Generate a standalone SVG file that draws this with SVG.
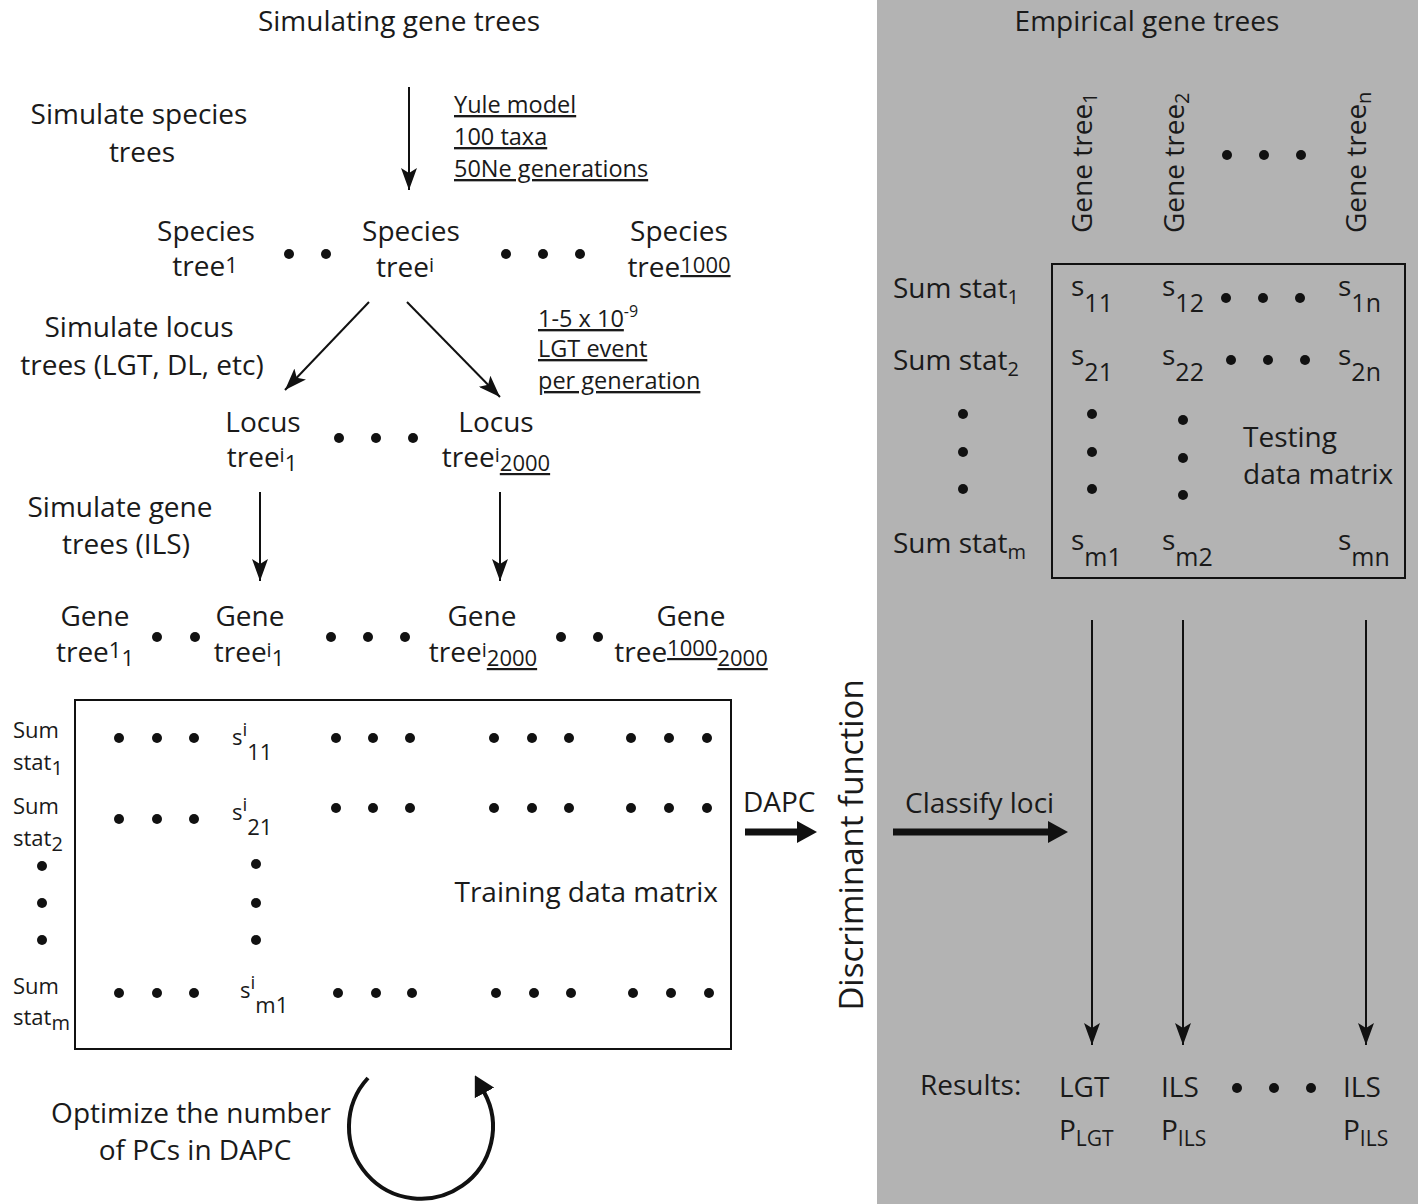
<svg xmlns="http://www.w3.org/2000/svg" width="1418" height="1204" viewBox="0 0 1418 1204">
<style>
text{font-family:"Open Sans","Noto Sans","DejaVu Sans",sans-serif;fill:#1a1a1a}
.t{font-size:28px}
.a{font-size:23.5px}
.sm{font-size:22px}
.big{font-size:33px}
.u{text-decoration:underline}
.dot{fill:#111}
.thin{stroke:#111;stroke-width:2;fill:none;marker-end:url(#ah)}
.thick{stroke:#111;stroke-width:7;fill:none;marker-end:url(#ahb)}
.box{fill:none;stroke:#111;stroke-width:2}
</style>
<defs>
<marker id="ah" viewBox="0 0 22 16" refX="22" refY="8" markerWidth="22" markerHeight="16" markerUnits="userSpaceOnUse" orient="auto"><path d="M0,0 L22,8 L0,16 L5,8 Z" fill="#111"/></marker>
<marker id="ahb" viewBox="0 0 20 22" refX="1" refY="11" markerWidth="20" markerHeight="22" markerUnits="userSpaceOnUse" orient="auto"><path d="M0,0 L20,11 L0,22 Z" fill="#111"/></marker>
</defs>
<rect x="0" y="0" width="1418" height="1204" fill="#ffffff"/>
<rect x="877" y="0" width="541" height="1204" fill="#b3b3b3"/>

<g id="titles">
<text class="t" x="399" y="31" text-anchor="middle">Simulating gene trees</text>
<text class="t" x="1147" y="31" text-anchor="middle">Empirical gene trees</text>
</g>

<g id="step-labels">
<text class="t" x="139" y="124" text-anchor="middle">Simulate species</text>
<text class="t" x="142" y="162" text-anchor="middle">trees</text>
<text class="t" x="139" y="337" text-anchor="middle">Simulate locus</text>
<text class="t" x="142" y="375" text-anchor="middle">trees (LGT, DL, etc)</text>
<text class="t" x="120" y="517" text-anchor="middle">Simulate gene</text>
<text class="t" x="126" y="554" text-anchor="middle">trees (ILS)</text>
</g>

<g id="params">
<text class="a u" x="454" y="113">Yule model</text>
<text class="a u" x="454" y="145">100 taxa</text>
<text class="a u" x="454" y="177">50Ne generations</text>
<text class="a" x="538" y="327"><tspan class="u">1-5 x 10</tspan><tspan dy="-10" font-size="16">-9</tspan></text>
<text class="a u" x="538" y="357">LGT event</text>
<text class="a u" x="538" y="389">per generation</text>
</g>

<g id="species-trees">
<text class="t" x="206" y="241" text-anchor="middle">Species</text>
<text class="t" x="205" y="276" text-anchor="middle">tree<tspan dy="-3" font-size="22">1</tspan></text>
<circle class="dot" cx="289" cy="254" r="5"/><circle class="dot" cx="326" cy="254" r="5"/>
<text class="t" x="411" y="241" text-anchor="middle">Species</text>
<text class="t" x="405" y="277" text-anchor="middle">tree<tspan dy="-5" font-size="20">i</tspan></text>
<circle class="dot" cx="506" cy="254" r="5"/><circle class="dot" cx="543" cy="254" r="5"/><circle class="dot" cx="580" cy="254" r="5"/>
<text class="t" x="679" y="241" text-anchor="middle">Species</text>
<text class="t" x="679" y="277" text-anchor="middle">tree<tspan dy="-4" font-size="22" class="u">1000</tspan></text>
</g>

<g id="locus-trees">
<text class="t" x="263" y="432" text-anchor="middle">Locus</text>
<text class="t" x="262" y="467" text-anchor="middle">tree<tspan dy="-5" font-size="20">i</tspan><tspan dy="9" font-size="22">1</tspan></text>
<circle class="dot" cx="339" cy="438" r="5"/><circle class="dot" cx="376" cy="438" r="5"/><circle class="dot" cx="413" cy="438" r="5"/>
<text class="t" x="496" y="432" text-anchor="middle">Locus</text>
<text class="t" x="496" y="467" text-anchor="middle">tree<tspan dy="-5" font-size="20">i</tspan><tspan dy="9" font-size="22" class="u">2000</tspan></text>
</g>

<g id="gene-trees">
<text class="t" x="95" y="626" text-anchor="middle">Gene</text>
<text class="t" x="95" y="662" text-anchor="middle">tree<tspan dy="-4" font-size="22">1</tspan><tspan dy="8" font-size="22">1</tspan></text>
<circle class="dot" cx="157" cy="637" r="5"/><circle class="dot" cx="195" cy="637" r="5"/>
<text class="t" x="250" y="626" text-anchor="middle">Gene</text>
<text class="t" x="249" y="662" text-anchor="middle">tree<tspan dy="-5" font-size="20">i</tspan><tspan dy="9" font-size="22">1</tspan></text>
<circle class="dot" cx="331" cy="637" r="5"/><circle class="dot" cx="368" cy="637" r="5"/><circle class="dot" cx="405" cy="637" r="5"/>
<text class="t" x="482" y="626" text-anchor="middle">Gene</text>
<text class="t" x="483" y="662" text-anchor="middle">tree<tspan dy="-5" font-size="20">i</tspan><tspan dy="9" font-size="22" class="u">2000</tspan></text>
<circle class="dot" cx="561" cy="637" r="5"/><circle class="dot" cx="598" cy="637" r="5"/>
<text class="t" x="691" y="626" text-anchor="middle">Gene</text>
<text class="t" x="691" y="662" text-anchor="middle">tree<tspan dy="-6" font-size="22" class="u">1000</tspan><tspan dy="10" font-size="22" class="u">2000</tspan></text>
</g>

<g id="training-matrix">
<rect class="box" x="75" y="700" width="656" height="349"/>
<text class="sm" x="13" y="738">Sum</text>
<text class="sm" x="13" y="770">stat<tspan dy="5" font-size="20">1</tspan></text>
<text class="sm" x="13" y="814">Sum</text>
<text class="sm" x="13" y="846">stat<tspan dy="5" font-size="20">2</tspan></text>
<text class="sm" x="13" y="994">Sum</text>
<text class="sm" x="13" y="1025">stat<tspan dy="5" font-size="20">m</tspan></text>
<circle class="dot" cx="42" cy="866" r="5"/><circle class="dot" cx="42" cy="903" r="5"/><circle class="dot" cx="42" cy="940" r="5"/>
<text class="sm" x="232" y="745">s<tspan dy="-9" font-size="19">i</tspan><tspan dy="24">11</tspan></text>
<text class="sm" x="232" y="820">s<tspan dy="-9" font-size="19">i</tspan><tspan dy="24">21</tspan></text>
<text class="sm" x="240" y="998">s<tspan dy="-9" font-size="19">i</tspan><tspan dy="24">m1</tspan></text>
<circle class="dot" cx="256" cy="864" r="5"/><circle class="dot" cx="256" cy="903" r="5"/><circle class="dot" cx="256" cy="940" r="5"/>
<g id="row1-dots">
<circle class="dot" cx="119" cy="738" r="5"/><circle class="dot" cx="157" cy="738" r="5"/><circle class="dot" cx="194" cy="738" r="5"/>
<circle class="dot" cx="336" cy="738" r="5"/><circle class="dot" cx="373" cy="738" r="5"/><circle class="dot" cx="410" cy="738" r="5"/>
<circle class="dot" cx="494" cy="738" r="5"/><circle class="dot" cx="532" cy="738" r="5"/><circle class="dot" cx="569" cy="738" r="5"/>
<circle class="dot" cx="631" cy="738" r="5"/><circle class="dot" cx="669" cy="738" r="5"/><circle class="dot" cx="707" cy="738" r="5"/>
</g>
<g id="row2-dots">
<circle class="dot" cx="119" cy="819" r="5"/><circle class="dot" cx="157" cy="819" r="5"/><circle class="dot" cx="194" cy="819" r="5"/>
<circle class="dot" cx="336" cy="808" r="5"/><circle class="dot" cx="373" cy="808" r="5"/><circle class="dot" cx="410" cy="808" r="5"/>
<circle class="dot" cx="494" cy="808" r="5"/><circle class="dot" cx="532" cy="808" r="5"/><circle class="dot" cx="569" cy="808" r="5"/>
<circle class="dot" cx="631" cy="808" r="5"/><circle class="dot" cx="669" cy="808" r="5"/><circle class="dot" cx="707" cy="808" r="5"/>
</g>
<g id="rowm-dots">
<circle class="dot" cx="119" cy="993" r="5"/><circle class="dot" cx="157" cy="993" r="5"/><circle class="dot" cx="194" cy="993" r="5"/>
<circle class="dot" cx="338" cy="993" r="5"/><circle class="dot" cx="376" cy="993" r="5"/><circle class="dot" cx="412" cy="993" r="5"/>
<circle class="dot" cx="496" cy="993" r="5"/><circle class="dot" cx="534" cy="993" r="5"/><circle class="dot" cx="571" cy="993" r="5"/>
<circle class="dot" cx="633" cy="993" r="5"/><circle class="dot" cx="671" cy="993" r="5"/><circle class="dot" cx="709" cy="993" r="5"/>
</g>
<text class="t" x="718" y="902" text-anchor="end">Training data matrix</text>
</g>

<g id="optimize">
<text class="t" x="191" y="1123" text-anchor="middle">Optimize the number</text>
<text class="t" x="195" y="1160" text-anchor="middle">of PCs in DAPC</text>
</g>

<g id="dapc">
<text class="t" x="743" y="812">DAPC</text>
<text class="big" transform="translate(863,845) rotate(-90)" text-anchor="middle">Discriminant function</text>
<text class="t" x="905" y="813">Classify loci</text>
</g>

<g id="gene-tree-headers">
<text class="t" transform="translate(1092,233) rotate(-90)">Gene tree<tspan dy="5" font-size="20">1</tspan></text>
<text class="t" transform="translate(1184,233) rotate(-90)">Gene tree<tspan dy="5" font-size="20">2</tspan></text>
<text class="t" transform="translate(1366,233) rotate(-90)">Gene tree<tspan dy="5" font-size="20">n</tspan></text>
<circle class="dot" cx="1227" cy="155" r="5"/><circle class="dot" cx="1264" cy="155" r="5"/><circle class="dot" cx="1301" cy="155" r="5"/>
</g>

<g id="testing-matrix">
<rect class="box" x="1052" y="264" width="353" height="314"/>
<text class="t" x="893" y="298">Sum stat<tspan dy="6" font-size="20">1</tspan></text>
<text class="t" x="893" y="370">Sum stat<tspan dy="6" font-size="20">2</tspan></text>
<text class="t" x="893" y="553">Sum stat<tspan dy="6" font-size="20">m</tspan></text>
<circle class="dot" cx="963" cy="414" r="5"/><circle class="dot" cx="963" cy="452" r="5"/><circle class="dot" cx="963" cy="489" r="5"/>
<text class="t" x="1071" y="296">s<tspan dy="16" font-size="25">11</tspan></text>
<text class="t" x="1162" y="296">s<tspan dy="16" font-size="25">12</tspan></text>
<text class="t" x="1338" y="296">s<tspan dy="16" font-size="25">1n</tspan></text>
<circle class="dot" cx="1226" cy="298" r="5"/><circle class="dot" cx="1263" cy="298" r="5"/><circle class="dot" cx="1300" cy="298" r="5"/>
<text class="t" x="1071" y="365">s<tspan dy="16" font-size="25">21</tspan></text>
<text class="t" x="1162" y="365">s<tspan dy="16" font-size="25">22</tspan></text>
<text class="t" x="1338" y="365">s<tspan dy="16" font-size="25">2n</tspan></text>
<circle class="dot" cx="1231" cy="360" r="5"/><circle class="dot" cx="1268" cy="360" r="5"/><circle class="dot" cx="1305" cy="360" r="5"/>
<circle class="dot" cx="1092" cy="414" r="5"/><circle class="dot" cx="1092" cy="452" r="5"/><circle class="dot" cx="1092" cy="489" r="5"/>
<circle class="dot" cx="1183" cy="420" r="5"/><circle class="dot" cx="1183" cy="458" r="5"/><circle class="dot" cx="1183" cy="495" r="5"/>
<text class="t" x="1243" y="447">Testing</text>
<text class="t" x="1243" y="484">data matrix</text>
<text class="t" x="1071" y="550">s<tspan dy="16" font-size="25">m1</tspan></text>
<text class="t" x="1162" y="550">s<tspan dy="16" font-size="25">m2</tspan></text>
<text class="t" x="1338" y="550">s<tspan dy="16" font-size="25">mn</tspan></text>
</g>

<g id="results">
<text class="t" x="920" y="1095">Results:</text>
<text class="t" x="1059" y="1097">LGT</text>
<text class="t" x="1059" y="1140">P<tspan dy="6" font-size="21">LGT</tspan></text>
<text class="t" x="1161" y="1097">ILS</text>
<text class="t" x="1161" y="1140">P<tspan dy="6" font-size="21">ILS</tspan></text>
<circle class="dot" cx="1237" cy="1088" r="5"/><circle class="dot" cx="1274" cy="1088" r="5"/><circle class="dot" cx="1311" cy="1088" r="5"/>
<text class="t" x="1343" y="1097">ILS</text>
<text class="t" x="1343" y="1140">P<tspan dy="6" font-size="21">ILS</tspan></text>
</g>

<g id="connectors">
<line class="thin" x1="409" y1="87" x2="409" y2="190"/>
<line class="thin" x1="369" y1="302" x2="285" y2="390"/>
<line class="thin" x1="407" y1="302" x2="500" y2="397"/>
<line class="thin" x1="260" y1="492" x2="260" y2="581"/>
<line class="thin" x1="500" y1="492" x2="500" y2="581"/>
<line class="thick" x1="745" y1="832" x2="798" y2="832"/>
<line class="thick" x1="893" y1="832" x2="1049" y2="832"/>
<line class="thin" x1="1092" y1="620" x2="1092" y2="1045"/>
<line class="thin" x1="1183" y1="620" x2="1183" y2="1045"/>
<line class="thin" x1="1366" y1="620" x2="1366" y2="1045"/>
<path d="M368,1078 A72,72 0 1,0 484,1092" stroke="#111" stroke-width="4" fill="none" marker-end="url(#ahb)"/>
</g>
</svg>
